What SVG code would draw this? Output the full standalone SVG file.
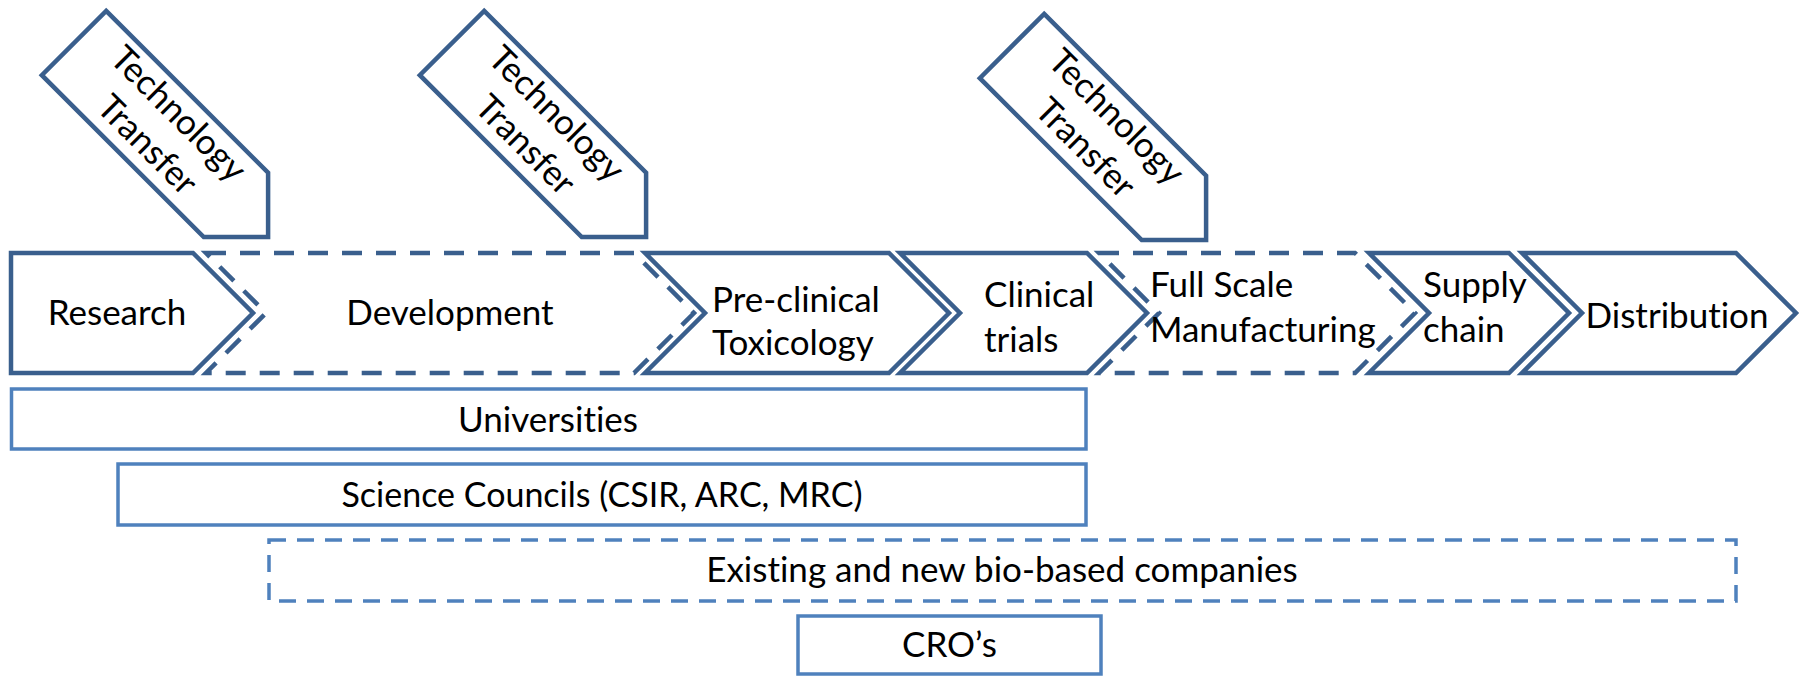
<svg xmlns="http://www.w3.org/2000/svg" width="1805" height="676" viewBox="0 0 1805 676">
<style>
.chev{fill:#fff;stroke:#3A5F8D;stroke-width:4.5;stroke-linejoin:miter}
.dash{stroke-dasharray:20 14}
.bar{fill:#fff;stroke:#4F81BD;stroke-width:3.5}
.bdash{stroke-dasharray:17 11}
.tt{fill:#fff;stroke:#3A5F8D;stroke-width:4.5;stroke-linejoin:miter}
text{font-family:Lato,"Open Sans","Liberation Sans",sans-serif;font-size:35px;fill:#000;font-variant-ligatures:none}
.m{text-anchor:middle}
.s{font-size:34px}
</style>
<rect width="1805" height="676" fill="#fff"/>
<g id="tt1" transform="translate(74,43) rotate(45)">
<polygon class="tt" points="0,-45.5 229,-45.5 274.5,0 229,45.5 0,45.5"/>
<text class="m" x="124" y="-12">Technology</text>
<text class="m" x="124" y="32">Transfer</text>
</g>
<g id="tt2" transform="translate(452,43) rotate(45)">
<polygon class="tt" points="0,-45.5 229,-45.5 274.5,0 229,45.5 0,45.5"/>
<text class="m" x="124" y="-12">Technology</text>
<text class="m" x="124" y="32">Transfer</text>
</g>
<g id="tt3" transform="translate(1012,46) rotate(45)">
<polygon class="tt" points="0,-45.5 229,-45.5 274.5,0 229,45.5 0,45.5"/>
<text class="m" x="124" y="-12">Technology</text>
<text class="m" x="124" y="32">Transfer</text>
</g>
<g id="research">
<polygon class="chev" points="11,253 193,253 253,313 193,373 11,373"/>
<text class="m" x="117" y="325">Research</text>
</g>
<g id="development">
<polygon class="chev dash" points="206,253 634,253 694,313 634,373 206,373 266,313"/>
<text class="m" x="450" y="325">Development</text>
</g>
<g id="preclinical">
<polygon class="chev" points="645,253 889,253 949,313 889,373 645,373 705,313"/>
<text x="712" y="312">Pre-clinical</text>
<text x="712" y="355">Toxicology</text>
</g>
<g id="clinical">
<polygon class="chev" points="900,253 1087,253 1147,313 1087,373 900,373 960,313"/>
<text x="984" y="307">Clinical</text>
<text x="984" y="352">trials</text>
</g>
<g id="fullscale">
<polygon class="chev dash" points="1099,253 1355,253 1415,313 1355,373 1099,373 1159,313"/>
<text x="1150" y="297">Full Scale</text>
<text x="1150" y="342">Manufacturing</text>
</g>
<g id="supply">
<polygon class="chev" points="1369,253 1509,253 1569,313 1509,373 1369,373 1429,313"/>
<text x="1423" y="297">Supply</text>
<text x="1423" y="342">chain</text>
</g>
<g id="distribution">
<polygon class="chev" points="1522,253 1736,253 1796,313 1736,373 1522,373 1582,313"/>
<text class="m" x="1677" y="328">Distribution</text>
</g>
<g id="universities">
<rect class="bar" x="11.5" y="389" width="1074.5" height="60"/>
<text class="m" x="548" y="432">Universities</text>
</g>
<g id="science">
<rect class="bar" x="118" y="464" width="968" height="61"/>
<text class="m s" x="602" y="507">Science Councils (CSIR, ARC, MRC)</text>
</g>
<g id="companies">
<rect class="bar bdash" x="269" y="540" width="1467" height="61"/>
<text class="m" x="1002" y="582">Existing and new bio-based companies</text>
</g>
<g id="cros">
<rect class="bar" x="798" y="616" width="303" height="58"/>
<text class="m" x="949.5" y="657">CRO’s</text>
</g>
<g id="connectors"></g>
</svg>
